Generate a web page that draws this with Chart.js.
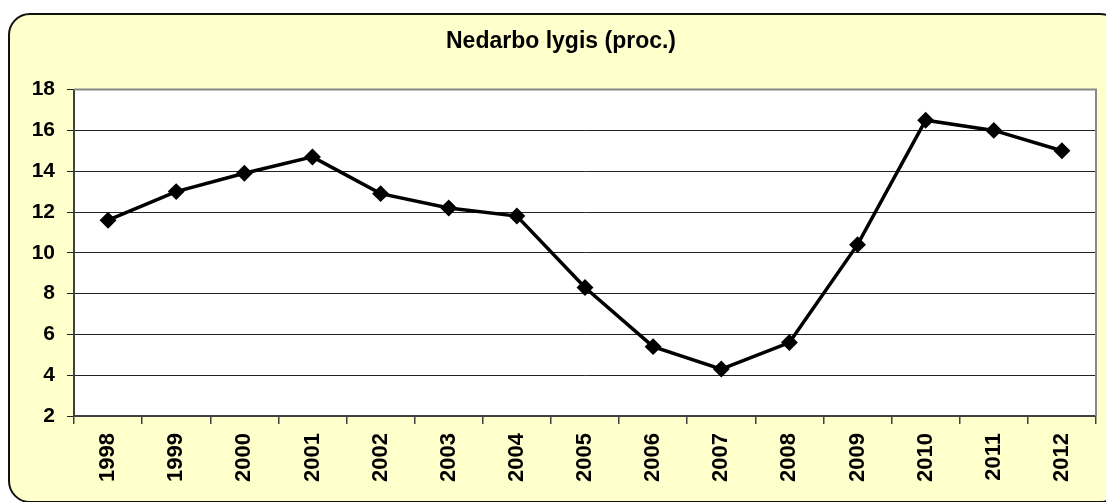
<!DOCTYPE html>
<html>
<head>
<meta charset="utf-8">
<script src="https://cdn.jsdelivr.net/npm/chart.js@4"></script>
<style>
    body { margin: 0; background: #ffffff; }
    #wrap { position: relative; width: 1106px; height: 502px; overflow: hidden; }
    #frame {
        position: absolute; left: 8px; top: 13px; width: 1110px; height: 486px;
        background: #FFFFCC; border: 2px solid #111; border-radius: 22px;
    }
    #chart { position: absolute; left: 0; top: 0; }
</style>
</head>
<body>
<div id="wrap">
    <div id="frame"></div>
    <canvas id="chart" width="1106" height="502"></canvas>
</div>
<script>
let years = ['1998', '1999', '2000', '2001', '2002', '2003', '2004', '2005',
             '2006', '2007', '2008', '2009', '2010', '2011', '2012'];
let unemployment = [11.6, 13.0, 13.9, 14.7, 12.9, 12.2, 11.8, 8.3,
                    5.4, 4.3, 5.6, 10.4, 16.5, 16.0, 15.0];
let yTicks = [2, 4, 6, 8, 10, 12, 14, 16, 18];

let plotBox = {
    id: 'plotBox',
    beforeDraw(chart) {
        let ctx = chart.ctx, a = chart.chartArea;
        ctx.save();
        ctx.fillStyle = '#ffffff';
        ctx.fillRect(a.left, a.top, a.right - a.left, a.bottom - a.top);
        ctx.restore();
    },
    afterDatasetsDraw(chart) {
        let ctx = chart.ctx, a = chart.chartArea;
        ctx.save();
        ctx.strokeStyle = '#888888';
        ctx.lineWidth = 2;
        ctx.beginPath();
        ctx.moveTo(a.left, a.top);
        ctx.lineTo(a.right, a.top);
        ctx.lineTo(a.right, a.bottom);
        ctx.stroke();
        ctx.restore();
    }
};

new Chart(document.getElementById('chart'), {
    type: 'line',
    data: {
        labels: years,
        datasets: [
            {
                data: unemployment,
                borderColor: '#000000',
                borderWidth: 3.5,
                pointStyle: 'rectRot',
                pointRadius: 6,
                pointBackgroundColor: '#000000',
                pointBorderColor: '#000000',
                tension: 0
            }
        ]
    },
    options: {
        responsive: false,
        animation: false,
        layout: { padding: { left: 26, right: 10, top: 0, bottom: 0 } },
        plugins: {
            legend: { display: false },
            tooltip: { enabled: false },
            title: {
                display: true,
                text: 'Nedarbo lygis (proc.)',
                color: '#000000',
                font: { family: 'Liberation Sans', size: 23, weight: 'bold' },
                padding: { top: 28, bottom: 34 }
            }
        },
        scales: {
            x: {
                offset: true,
                grid: {
                    offset: true,
                    drawOnChartArea: false,
                    tickLength: 8,
                    color: '#404040',
                    lineWidth: 1.5
                },
                border: { color: '#404040', width: 2 },
                ticks: {
                    color: '#000000',
                    font: { family: 'Liberation Sans', size: 22, weight: 'bold' },
                    maxRotation: 90,
                    minRotation: 90,
                    padding: 9
                },
                afterFit(scale) { scale.height = 86; }
            },
            y: {
                min: 2,
                max: 18,
                afterBuildTicks(scale) { scale.ticks = yTicks.map(v => ({ value: v })); },
                grid: {
                    color: '#222222',
                    lineWidth: 1,
                    tickLength: 7
                },
                border: { color: '#404040', width: 2 },
                ticks: {
                    color: '#000000',
                    font: { family: 'Liberation Sans', size: 21, weight: 'bold' },
                    padding: 12
                },
                afterFit(scale) { scale.width = 48; }
            }
        }
    },
    plugins: [plotBox]
});
</script>
</body>
</html>
